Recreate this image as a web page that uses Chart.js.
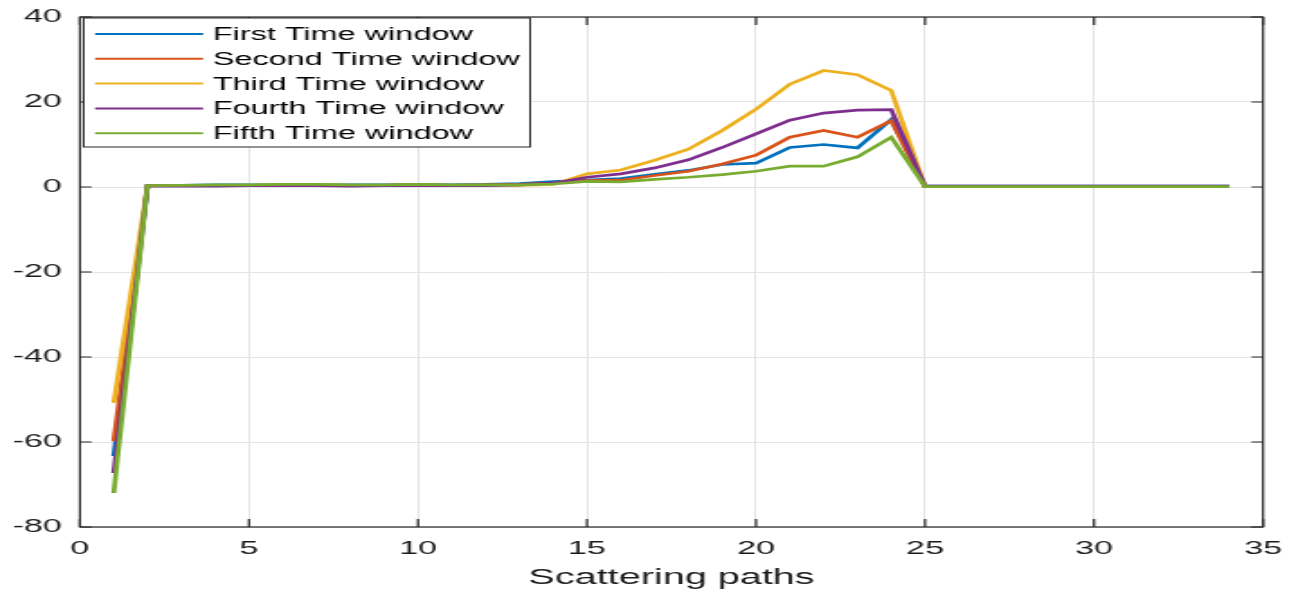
<!DOCTYPE html>
<html>
<head>
<meta charset="utf-8">
<script src="https://cdn.jsdelivr.net/npm/chart.js@4/dist/chart.umd.min.js"></script>
<style>
  html, body { margin: 0; padding: 0; background: #fff; overflow: hidden; }
  /* the source figure is a stretched MATLAB plot, so draw narrow and stretch sideways */
  #wrap { width: 718px; height: 592px; transform: scaleX(1.8); transform-origin: 0 0; }
</style>
</head>
<body>
<div id="wrap"><canvas id="chart" width="718" height="592"></canvas></div>
<script>
// x positions (scattering path index)
const paths = [1, 2, 3, 4, 5, 6, 7, 8, 9, 10, 11, 12, 13, 14, 15, 16, 17,
  18, 19, 20, 21, 22, 23, 24, 25, 26, 27, 28, 29, 30, 31, 32, 33, 34];

const seriesNames = ['First Time window', 'Second Time window', 'Third Time window',
  'Fourth Time window', 'Fifth Time window'];
const seriesColors = ['#0072BD', '#D95319', '#EDB120', '#7E2F8E', '#77AC30'];

const firstWin = [-63.3, 0.4, 0.4, 0.5, 0.5, 0.5, 0.5, 0.5, 0.5, 0.6, 0.5, 0.6, 0.8, 1.3,
  1.6, 2.0, 3.0, 3.9, 5.3, 5.6, 9.3, 10.0, 9.2, 15.9,
  0.2, 0.2, 0.2, 0.2, 0.2, 0.2, 0.2, 0.2, 0.2, 0.2];
const secondWin = [-59.8, 0.3, 0.3, 0.4, 0.4, 0.4, 0.4, 0.4, 0.4, 0.5, 0.4, 0.5, 0.6, 0.9,
  1.5, 1.6, 2.7, 3.7, 5.4, 7.5, 11.7, 13.3, 11.7, 15.6,
  0.1, 0.1, 0.1, 0.1, 0.1, 0.1, 0.1, 0.1, 0.1, 0.1];
const thirdWin = [-50.8, 0.3, 0.4, 0.4, 0.4, 0.5, 0.5, 0.4, 0.4, 0.5, 0.4, 0.4, 0.4, 0.6,
  3.1, 4.0, 6.3, 8.9, 13.3, 18.3, 24.2, 27.4, 26.4, 22.7,
  0.1, 0.1, 0.1, 0.1, 0.1, 0.1, 0.1, 0.1, 0.1, 0.1];
const fourthWin = [-67.3, 0.2, 0.2, 0.2, 0.3, 0.3, 0.3, 0.2, 0.3, 0.3, 0.3, 0.3, 0.5, 0.9,
  2.3, 3.1, 4.5, 6.4, 9.3, 12.5, 15.7, 17.4, 18.1, 18.2,
  0.2, 0.2, 0.2, 0.2, 0.2, 0.2, 0.2, 0.2, 0.2, 0.2];
const fifthWin = [-72.0, 0.3, 0.4, 0.5, 0.5, 0.6, 0.6, 0.5, 0.5, 0.6, 0.5, 0.5, 0.5, 0.7,
  1.3, 1.2, 1.8, 2.3, 2.9, 3.7, 4.9, 4.9, 7.1, 11.7,
  0.1, 0.1, 0.1, 0.1, 0.1, 0.1, 0.1, 0.1, 0.1, 0.1];

const allSeries = [firstWin, secondWin, thirdWin, fourthWin, fifthWin];

const FONT = "'Liberation Sans', Arial, sans-serif";
const AXIS = '#262626';

// box round the axes with inward ticks on all four sides (MATLAB style)
const axesBox = {
  id: 'axesBox',
  afterDatasetsDraw(chart) {
    const { ctx, chartArea: a, scales: { x, y } } = chart;
    ctx.save();
    ctx.strokeStyle = AXIS;
    ctx.lineWidth = 1.2;
    ctx.strokeRect(a.left, a.top, a.right - a.left, a.bottom - a.top);
    ctx.beginPath();
    x.ticks.forEach(t => {
      const px = x.getPixelForValue(t.value);
      ctx.moveTo(px, a.bottom); ctx.lineTo(px, a.bottom - 8);
      ctx.moveTo(px, a.top); ctx.lineTo(px, a.top + 8);
    });
    y.ticks.forEach(t => {
      const py = y.getPixelForValue(t.value);
      ctx.moveTo(a.left, py); ctx.lineTo(a.left + 6.5, py);
      ctx.moveTo(a.right, py); ctx.lineTo(a.right - 6.5, py);
    });
    ctx.stroke();
    ctx.restore();
  }
};

// legend in the upper left corner, inside the axes
const legendBox = {
  id: 'legendBox',
  afterDraw(chart) {
    const ctx = chart.ctx;
    ctx.save();
    ctx.fillStyle = '#fff';
    ctx.strokeStyle = AXIS;
    ctx.lineWidth = 1;
    ctx.fillRect(46.5, 18, 248, 129);
    ctx.strokeRect(46.5, 18, 248, 129);
    ctx.font = '18px ' + FONT;
    ctx.textBaseline = 'middle';
    chart.data.datasets.forEach((ds, i) => {
      const ly = 34 + i * 24.8;
      ctx.strokeStyle = ds.borderColor;
      ctx.lineWidth = 2;
      ctx.beginPath();
      ctx.moveTo(52.8, ly);
      ctx.lineTo(112.8, ly);
      ctx.stroke();
      ctx.fillStyle = '#000';
      ctx.fillText(ds.label, 118.3, ly + 1);
    });
    ctx.restore();
  }
};

const datasets = allSeries.map((vals, i) => ({
  label: seriesNames[i],
  data: paths.map((p, j) => ({ x: p, y: vals[j] })),
  borderColor: seriesColors[i],
  backgroundColor: seriesColors[i],
  borderWidth: 2.7,
  pointRadius: 0,
  tension: 0,
  fill: false,
  order: allSeries.length - i
}));

new Chart(document.getElementById('chart'), {
  type: 'line',
  data: { datasets: datasets },
  options: {
    responsive: false,
    animation: false,
    layout: { padding: { left: 0, top: 17, right: 16.3, bottom: 0 } },
    plugins: { legend: { display: false }, tooltip: { enabled: false } },
    scales: {
      x: {
        type: 'linear',
        min: 0,
        max: 35,
        afterFit: s => { s.height = 65; s.paddingLeft = 0; s.paddingRight = 0; },
        ticks: { stepSize: 5, padding: 10.5, color: '#1a1a1a', font: { family: FONT, size: 19 } },
        grid: { color: '#e4e4e4', drawTicks: false },
        border: { display: false },
        title: {
          display: true,
          text: 'Scattering paths',
          color: '#1a1a1a',
          font: { family: FONT, size: 22 },
          padding: { top: 0, bottom: 1 }
        }
      },
      y: {
        min: -80,
        max: 40,
        afterFit: s => { s.width = 44.4; s.paddingTop = 0; s.paddingBottom = 0; },
        ticks: { stepSize: 20, padding: 10, color: '#1a1a1a', font: { family: FONT, size: 19 } },
        grid: { color: '#e4e4e4', drawTicks: false },
        border: { display: false }
      }
    }
  },
  plugins: [axesBox, legendBox]
});
</script>
</body>
</html>
